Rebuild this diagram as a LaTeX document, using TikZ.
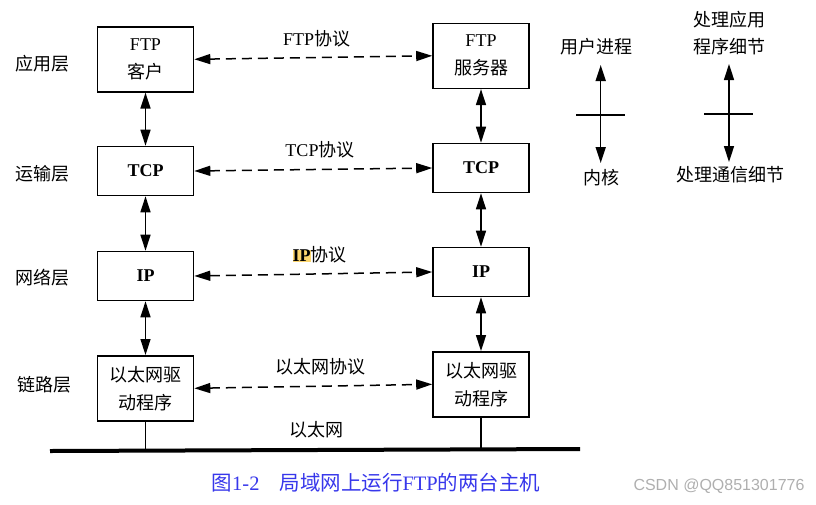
\documentclass[tikz,border=0pt]{standalone}
\usepackage{fontspec}
\setmainfont{Liberation Serif}
\newfontfamily\cjk{Noto Sans CJK SC}
\newfontfamily\wmfont{Liberation Sans}
\usetikzlibrary{arrows.meta}
\definecolor{capblue}{RGB}{55,55,235}
\definecolor{hlcol}{RGB}{252,214,110}
\definecolor{wmgray}{RGB}{175,175,175}
\begin{document}
\begin{tikzpicture}[x=1pt,y=-1pt,
  box/.style={draw,line width=1.6pt,minimum width=96pt,inner sep=0pt,align=center,font=\fontsize{18}{28}\selectfont},
  twoline/.style={minimum height=65pt},
  oneline/.style={minimum height=49pt},
  lbl/.style={inner sep=0pt,font=\fontsize{18}{27}\selectfont\cjk,align=center},
  plbl/.style={inner sep=0pt,font=\fontsize{18}{24}\selectfont},
  dblarrow/.style={{Triangle[length=16pt,width=10pt]}-{Triangle[length=16pt,width=10pt]}},
  vlink/.style={dblarrow,line width=1.5pt},
  proto/.style={dblarrow,line width=1.5pt,dash pattern=on 10pt off 6pt},
  stub/.style={line width=1.1pt},
  bus/.style={line width=4pt},
]
\useasboundingbox (0,0) rectangle (816,504);

% layer labels
\node[lbl] (l1) at (42.5,63.3) {应用层};
\node[lbl] (l2) at (42.5,173.3) {运输层};
\node[lbl] (l3) at (42.5,278) {网络层};
\node[lbl] (l4) at (44,385) {链路层};

% left host
\node[box,twoline] (ftpL) at (145.5,59.3) {FTP\\{\cjk 客户}};
\node[box,oneline] (tcpL) at (145.5,171) {\bfseries TCP};
\node[box,oneline] (ipL)  at (145.5,276) {\bfseries IP};
\node[box,twoline] (ethL) at (145.5,388.3) {{\cjk 以太网驱}\\{\cjk 动程序}};

% right host
\node[box,twoline] (ftpR) at (481,55.8) {FTP\\{\cjk 服务器}};
\node[box,oneline] (tcpR) at (481,168) {\bfseries TCP};
\node[box,oneline] (ipR)  at (481,272) {\bfseries IP};
\node[box,twoline] (ethR) at (481,384.3) {{\cjk 以太网驱}\\{\cjk 动程序}};

% vertical links
\draw[vlink] (ftpL.south) -- (tcpL.north);
\draw[vlink] (tcpL.south) -- (ipL.north);
\draw[vlink] (ipL.south) -- (ethL.north);
\draw[vlink] (ftpR.south) -- (tcpR.north);
\draw[vlink] (tcpR.south) -- (ipR.north);
\draw[vlink] (ipR.south) -- (ethR.north);

% peer protocols
\draw[proto] (ftpL.east) -- (ftpR.west);
\draw[proto] (tcpL.east) -- (tcpR.west);
\draw[proto] (ipL.east) -- (ipR.west);
\draw[proto] (ethL.east) -- (ethR.west);

\node[plbl] (p1) at (316.7,38.3) {FTP{\cjk 协议}};
\node[plbl] (p2) at (320,150) {TCP{\cjk 协议}};
\node[plbl] (p3) at (319.7,255) {{\setlength{\fboxsep}{0pt}\colorbox{hlcol}{\bfseries IP}}{\cjk 协议}};
\node[plbl] (p4) at (320.8,366.7) {{\cjk 以太网协议}};
\node[plbl] (p5) at (316.7,430) {{\cjk 以太网}};

% ethernet bus
\coordinate (busL) at (50,451);
\coordinate (busR) at (580,449);
\draw[bus] (busL) -- (busR);
\draw[stub] (ethL.south) -- (ethL.south |- busL);
\draw[stub] (ethR.south) -- (ethR.south |- busR);

% legend 1
\node[lbl] (user) at (596.7,46.7) {用户进程};
\node[lbl] (kern) at (601.7,178) {内核};
\coordinate (ua) at (600.7,65);
\coordinate (ub) at (600.7,163);
\coordinate (uc1) at (576,115);
\coordinate (uc2) at (625,115);
\draw[vlink] (ua) -- (ub);
\draw[line width=1.6pt] (uc1) -- (uc2);

% legend 2
\node[lbl] (app) at (729,33.4) {处理应用\\程序细节};
\node[lbl] (comm) at (730.8,175) {处理通信细节};
\coordinate (aa) at (729,64);
\coordinate (ab) at (729,162);
\coordinate (ac1) at (704,113.7);
\coordinate (ac2) at (753,113.7);
\draw[vlink] (aa) -- (ab);
\draw[line width=1.6pt] (ac1) -- (ac2);

% caption
\node[inner sep=0pt,text=capblue,font=\fontsize{20.5}{24}\selectfont] (cap) at (376,483)
  {{\cjk 图}1-2\hspace{20pt}{\cjk 局域网上运行}FTP{\cjk 的两台主机}};
\node[inner sep=0pt,text=wmgray,font=\wmfont\fontsize{16}{18}\selectfont] (wm) at (719,486) {CSDN @QQ851301776};
\end{tikzpicture}
\end{document}
